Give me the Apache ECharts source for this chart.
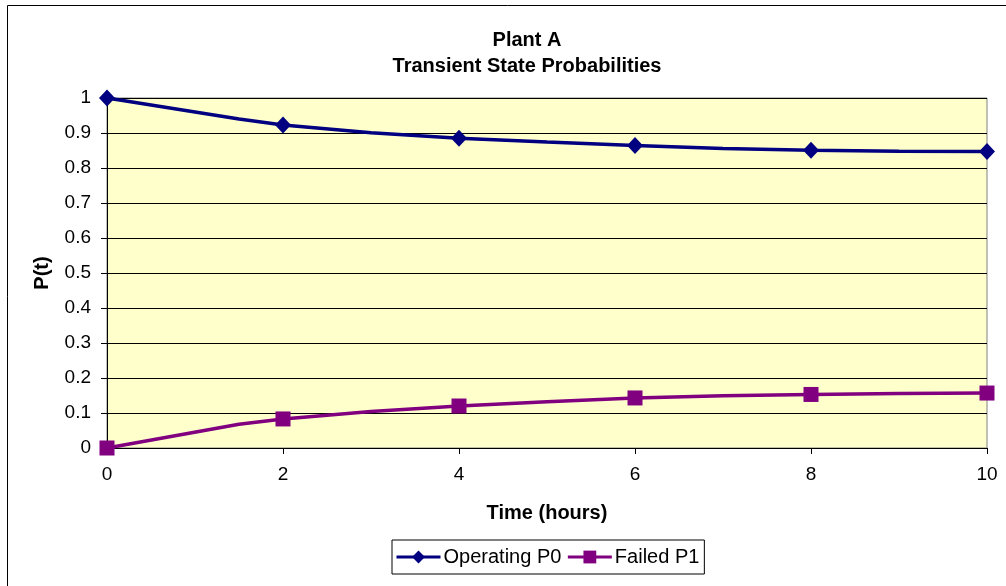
<!DOCTYPE html>
<html>
<head>
<meta charset="utf-8">
<script src="https://cdn.jsdelivr.net/npm/echarts@6/dist/echarts.min.js"></script>
<style>
html,body{margin:0;padding:0;background:#fff;}
#c{width:1006px;height:586px;}
</style>
</head>
<body>
<div id="c"></div>
<script>
const times = [0, 1.5, 2, 3, 4, 5, 6, 7, 8, 9, 10];
const operatingP0 = [1.0, 0.94, 0.923, 0.901, 0.885, 0.874, 0.864, 0.856, 0.851, 0.848, 0.847];
const failedP1 = [0.0, 0.068, 0.083, 0.104, 0.120, 0.132, 0.143, 0.149, 0.153, 0.156, 0.157];
const markerTimes = [0, 2, 4, 6, 8, 10];
const seriesNames = ['Operating P0', 'Failed P1'];
const titleText = 'Plant A\nTransient State Probabilities';
const xName = 'Time (hours)';
const yName = 'P(t)';

function build(vals) {
  return times.map((t, i) => markerTimes.includes(t)
    ? { value: [t, vals[i]] }
    : { value: [t, vals[i]], symbol: 'none' });
}

const font = 'Liberation Sans, Arial, sans-serif';
const chart = echarts.init(document.getElementById('c'), null, { renderer: 'canvas' });
chart.setOption({
  animation: false,
  backgroundColor: '#fff',
  graphic: [{
    type: 'rect', shape: { x: 7.5, y: 5.5, width: 1020, height: 620 },
    style: { fill: 'none', stroke: '#000', lineWidth: 1 }, silent: true, z: -1
  }],
  title: {
    text: titleText, left: 522, textAlign: 'center', top: 22,
    textStyle: { fontFamily: font, fontSize: 20, fontWeight: 'bold', color: '#000', lineHeight: 26 }
  },
  legend: {
    data: seriesNames, top: 540, left: 392,
    itemWidth: 44, itemHeight: 16, itemGap: 5,
    borderColor: '#000', borderWidth: 1, padding: [7, 5, 7, 3],
    lineStyle: { width: 3 },
    textStyle: { fontFamily: font, fontSize: 20, color: '#000', padding: [0, 0, 0, -2] }
  },
  grid: { left: 107, right: 19, top: 98, bottom: 138, show: true, backgroundColor: '#FFFFCC', borderColor: '#808080', borderWidth: 1 },
  xAxis: {
    type: 'value', min: 0, max: 10, interval: 2,
    name: xName, nameLocation: 'middle', nameGap: 55,
    nameTextStyle: { fontFamily: font, fontSize: 20, fontWeight: 'bold', color: '#000' },
    axisLine: { lineStyle: { color: '#000', width: 1 } },
    axisTick: { show: true, length: 6, lineStyle: { color: '#000' } },
    axisLabel: { fontFamily: font, fontSize: 19, color: '#000', margin: 17 },
    splitLine: { show: false }
  },
  yAxis: {
    type: 'value', min: 0, max: 1, interval: 0.1,
    name: yName, nameLocation: 'middle', nameGap: 55, nameRotate: 90,
    nameTextStyle: { fontFamily: font, fontSize: 20, fontWeight: 'bold', color: '#000' },
    axisLine: { show: true, lineStyle: { color: '#000', width: 1 } },
    axisTick: { show: true, length: 6, lineStyle: { color: '#000' } },
    axisLabel: { fontFamily: font, fontSize: 19, color: '#000', margin: 16 },
    splitLine: { show: true, lineStyle: { color: '#000', width: 1 } }
  },
  series: [
    {
      name: seriesNames[0], type: 'line', data: build(operatingP0),
      symbol: 'diamond', symbolSize: [16, 17],
      lineStyle: { color: '#000080', width: 3.5 }, itemStyle: { color: '#000080' }, z: 3
    },
    {
      name: seriesNames[1], type: 'line', data: build(failedP1),
      symbol: 'rect', symbolSize: 15,
      lineStyle: { color: '#800080', width: 3.5 }, itemStyle: { color: '#800080' }, z: 3
    }
  ]
});
</script>
</body>
</html>
